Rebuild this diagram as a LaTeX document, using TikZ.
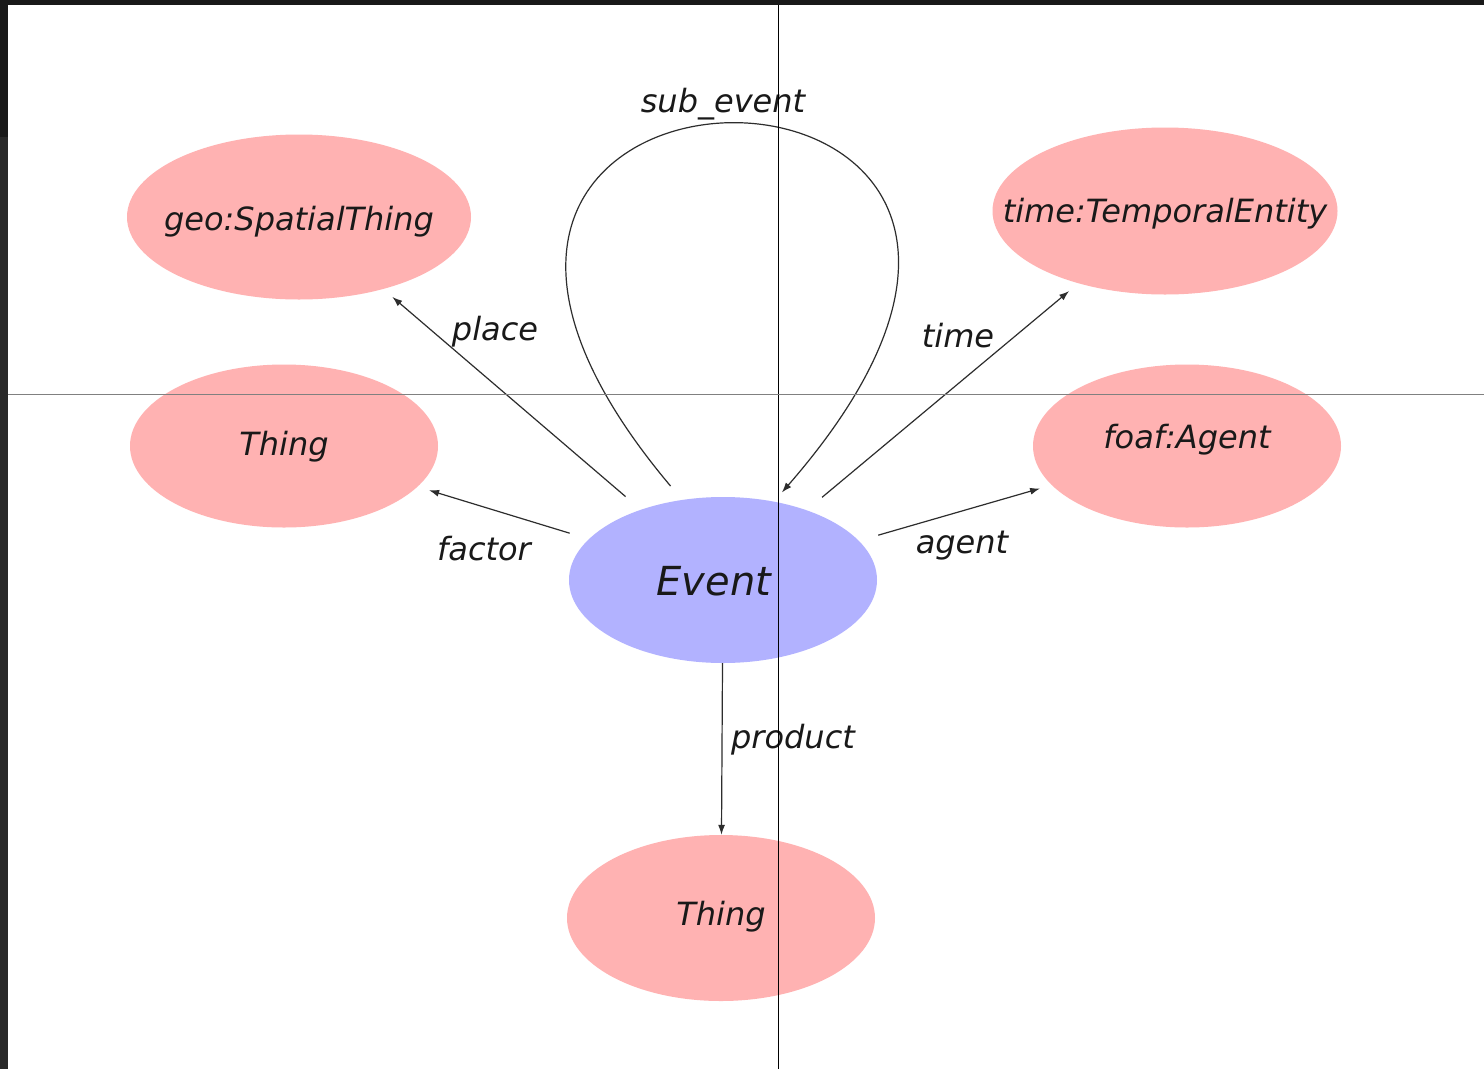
\documentclass[tikz,border=0pt]{standalone}
\usepackage{fontspec}
\setmainfont{DejaVu Sans}
\usetikzlibrary{arrows.meta,shapes.geometric}
\definecolor{pinkfill}{RGB}{255,178,178}
\definecolor{bluefill}{RGB}{178,178,255}
\definecolor{edgegray}{RGB}{45,45,45}
\definecolor{txt}{RGB}{25,25,25}
% #1: how far the baseline lies below the node centre, #2: text
\newcommand{\ctext}[2]{\makebox[0pt]{\smash{\raisebox{-#1}{#2}}}}
\begin{document}
\begin{tikzpicture}[x=1pt,y=-1pt,
  cls/.style={ellipse, fill=pinkfill, draw=none, inner sep=0pt, text=txt,
    font=\fontsize{32}{38}\selectfont\itshape},
  evt/.style={ellipse, fill=bluefill, draw=none, inner sep=0pt, text=txt,
    minimum width=308pt, minimum height=166pt,
    font=\fontsize{40}{48}\selectfont\itshape},
  rel/.style={draw=edgegray, line width=1.2pt, -{Latex[length=10pt,width=7pt]},
    shorten <=20pt, shorten >=12pt},
  lbl/.style={anchor=base, inner sep=0pt, text=txt,
    font=\fontsize{32}{38}\selectfont\itshape}
]
\useasboundingbox (0,0) rectangle (1484,1069);
\fill[white] (0,0) rectangle (1484,1069);
\fill[black!90] (0,0) rectangle (1484,5);
\fill[black!90] (0,0) rectangle (8,137);
\fill[black!84] (0,137) rectangle (8,1069);

% nodes
\node[cls, minimum width=344pt, minimum height=165pt] (geo) at (299,217) {\ctext{13pt}{geo:SpatialThing}};
\node[cls, minimum width=308pt, minimum height=163pt] (thingL) at (284,446) {\ctext{9pt}{Thing}};
\node[cls, minimum width=345pt, minimum height=167pt] (tem) at (1165,211) {\ctext{11pt}{time:TemporalEntity}};
\node[cls, minimum width=308pt, minimum height=163pt] (agent) at (1187,446) {\ctext{2pt}{foaf:Agent}};
\node[evt] (ev) at (723,580) {\ctext{15pt}{Event\hspace{18pt}}};
\node[cls, minimum width=308pt, minimum height=166pt] (thingB) at (721,918) {\ctext{7pt}{Thing}};

% connectors
\draw[rel] (ev) -- (geo);
\draw[rel] (ev) -- (thingL);
\draw[rel] (ev) -- (tem);
\draw[rel] (ev) -- (agent);
\draw[rel, shorten <=0pt, shorten >=0pt] (ev) -- (thingB);
\draw[rel, shorten <=18pt, shorten >=12pt] (ev.117) .. controls +(-420,-499) and +(435,-499) .. (ev.57);

% edge labels
\node[lbl] (lsub) at (723,112) {sub\_event};
\node[lbl] (lplace) at (495,340) {place};
\node[lbl] (lfactor) at (484,560) {factor};
\node[lbl] (ltime) at (958,347) {time};
\node[lbl] (lagent) at (962,553) {agent};
\node[lbl] (lprod) at (793,748) {product};

% crosshair lines
\draw[line width=1pt, black] (778,5) -- (778,1069);
\draw[line width=1pt, black!50] (8,394) -- (1484,394);
\end{tikzpicture}
\end{document}
